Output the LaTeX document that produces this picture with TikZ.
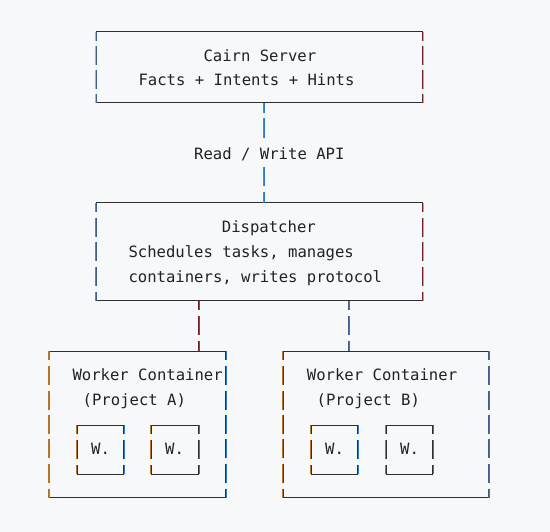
\documentclass[tikz,border=0pt]{standalone}
\usepackage{fontspec}
\setmonofont{DejaVu Sans Mono}
\definecolor{bg}{HTML}{F6F8FA}
\definecolor{ink}{HTML}{1F2328}
\definecolor{hl}{HTML}{2E2E33}
\definecolor{org}{HTML}{B8722A}
\definecolor{blu}{HTML}{2F7AC9}
\definecolor{dred}{HTML}{6E2424}
\definecolor{lblu}{HTML}{7DB6EC}
\definecolor{yel}{HTML}{D8B450}
\definecolor{slate}{HTML}{3F5F8A}
\newcommand\vseg[5]{%
  \draw[#4,line width=1pt] (#1-0.5,#2) -- (#1-0.5,#3);
  \draw[#5,line width=1pt] (#1+0.5,#2) -- (#1+0.5,#3);}
\newcommand\vside[6]{% x, ytop, ybot, rows, colA, colB
  \pgfmathsetmacro\hh{(#3-#2)/#4}%
  \pgfmathtruncatemacro\nm{#4-1}%
  \vseg{#1}{#2}{#2+9}{#5}{#6}%
  \vseg{#1}{#3-9}{#3}{#5}{#6}%
  \foreach \k in {1,...,\nm}{%
    \pgfmathsetmacro\cc{#2+\k*\hh}%
    \vseg{#1}{\cc-9.5}{\cc+9.5}{#5}{#6}}}
\newcommand\asciibox[9]{% name, x1, y1, x2, y2, rows, leftA, leftB, right(A/B)
  \node[boxarea, minimum width={#4-#2}, minimum height={#5-#3}] (#1) at ({(#2+#4)/2},{(#3+#5)/2}) {};
  \draw[hline] (#2,#3) -- (#4,#3);
  \draw[hline] (#2,#5) -- (#4,#5);
  \vside{#2}{#3}{#5}{#6}{#7}{#8}
  \edef\tmp{#9}%
  \expandafter\rightside\tmp\relax{#4}{#3}{#5}{#6}}
\def\rightside#1/#2\relax#3#4#5#6{\vside{#3}{#4}{#5}{#6}{#1}{#2}}
\begin{document}
\begin{tikzpicture}[x=1pt,y=-1pt,
  txt/.style={font=\ttfamily\fontsize{15.6}{18}\selectfont, text=ink, inner sep=0pt, anchor=base west},
  hline/.style={hl, line width=1pt},
  boxarea/.style={draw=none, inner sep=0pt, outer sep=0pt}]
\fill[bg] (0,0) rectangle (550,532);
\useasboundingbox (0,0) rectangle (550,532);

% boxes
\asciibox{server}{96}{32}{423}{103}{3}{yel}{slate}{dred/lblu}
\asciibox{disp}{96}{203}{423}{301}{4}{org}{slate}{dred/lblu}
\asciibox{wa}{49}{351.5}{226}{497.5}{6}{org}{org}{hl/blu}
\asciibox{wb}{282.5}{351.5}{488.5}{497.5}{6}{org}{dred}{slate/blu}
\asciibox{wa1}{77}{425.5}{123.5}{474.5}{2}{org}{hl}{hl/blu}
\asciibox{wa2}{151}{425.5}{198.5}{474.5}{2}{org}{hl}{hl/blu}
\asciibox{wb1}{311}{425.5}{358}{474.5}{2}{org}{hl}{hl/blu}
\asciibox{wb2}{385.5}{425.5}{432.5}{474.5}{2}{org}{hl}{hl/blu}

% texts
\node[txt] (t1) at (203.3,61.5) {Cairn Server};
\node[txt] (t2) at (138.3,86) {Facts + Intents + Hints};
\node[txt] (api) at (194,159.5) {Read / Write API};
\node[txt] (t3) at (221.7,233) {Dispatcher};
\node[txt] (t4) at (128.3,258) {Schedules tasks, manages};
\node[txt] (t5) at (128.3,283) {containers, writes protocol};
\node[txt] (t6) at (72.3,381) {Worker Container};
\node[txt] (t7) at (82.5,405.5) {(Project A)};
\node[txt] (t8) at (306.7,381) {Worker Container};
\node[txt] (t9) at (316.5,405.5) {(Project B)};
\node[txt] (w1) at (91,455) {W.};
\node[txt] (w2) at (165,455) {W.};
\node[txt] (w3) at (325,455) {W.};
\node[txt] (w4) at (400,455) {W.};

% connectors
\vseg{264}{103}{113}{org}{blu}
\vseg{264}{118.5}{138}{org}{blu}
\vseg{264}{167}{186.5}{org}{blu}
\vseg{264}{192}{203}{org}{blu}
\vseg{198.5}{301}{310}{dred}{slate}
\vseg{198.5}{316.5}{335.5}{dred}{slate}
\vseg{198.5}{341.5}{351.5}{dred}{slate}
\vseg{348.5}{301}{310}{slate}{blu}
\vseg{348.5}{316.5}{335.5}{slate}{blu}
\vseg{348.5}{341.5}{351.5}{slate}{blu}
\end{tikzpicture}
\end{document}
